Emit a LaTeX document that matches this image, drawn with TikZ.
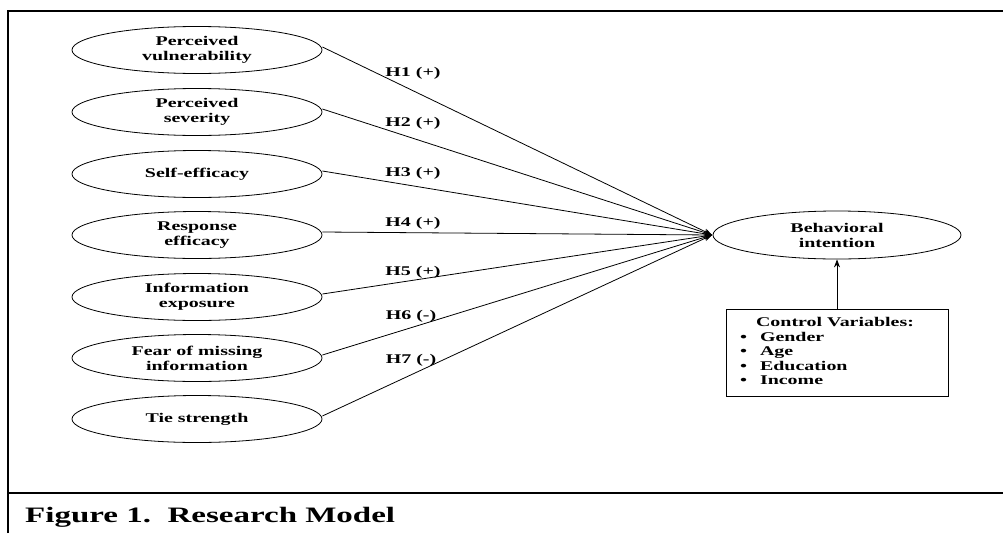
\documentclass[tikz,border=0pt]{standalone}
\usepackage{fontspec}
\setmainfont[FakeStretch=1.5]{Liberation Serif}
\usetikzlibrary{shapes.geometric,arrows.meta}
\begin{document}
\begin{tikzpicture}[x=1pt,y=-1pt,
  construct/.style={ellipse,draw,line width=0.8pt,minimum width=250pt,minimum height=47pt,inner sep=0pt,
    align=center,font=\fontsize{13.3}{15}\selectfont\bfseries},
  hyp/.style={font=\fontsize{13.3}{15}\selectfont\bfseries,inner sep=1pt},
  link/.style={line width=0.8pt,-{Stealth[length=8pt,width=6pt]}},
  frame/.style={line width=1.5pt}]
\useasboundingbox (0,0) rectangle (1003,533);
% frame
\draw[frame] (8,533) -- (8,11) -- (1003,11);
\draw[line width=2.6pt] (8,493) -- (1003,493);
\node[anchor=base west,inner sep=0pt,font=\fontsize{22}{26}\selectfont\bfseries] (cap) at (25,522) {Figure 1.\ \ Research Model};
% constructs
\node[construct] (pv) at (197,50) {Perceived\\vulnerability};
\node[construct] (ps) at (197,112) {Perceived\\severity};
\node[construct] (se) at (197,174) {Self-efficacy};
\node[construct] (re) at (197,235) {Response\\efficacy};
\node[construct] (ie) at (197,297) {Information\\exposure};
\node[construct] (fm) at (197,358) {Fear of missing\\information};
\node[construct] (ts) at (197,419) {Tie strength};
\node[construct,minimum width=248pt,minimum height=48pt] (bi) at (837,235) {Behavioral\\intention};
\coordinate (hub) at ([xshift=-0.5pt]bi.west);
% links
\foreach \n in {pv,ps,se,re,ie,fm,ts} \draw[link] ([yshift=3pt]\n.east) -- (hub);
% labels
\node[hyp] (h1) at (413,73) {H1 (+)};
\node[hyp] (h2) at (413,123) {H2 (+)};
\node[hyp] (h3) at (413,173) {H3 (+)};
\node[hyp] (h4) at (413,223) {H4 (+)};
\node[hyp] (h5) at (413,272) {H5 (+)};
\node[hyp] (h6) at (411,316) {H6 (-)};
\node[hyp] (h7) at (411,360) {H7 (-)};
% control box
\node[draw,line width=0.8pt,minimum width=222pt,minimum height=87pt,inner sep=0pt,
  font=\fontsize{13.3}{15.5}\selectfont\bfseries] (cv) at (837,352.5) {%
  \begin{tabular}{@{}l@{\hspace{13pt}}l@{}}
  \multicolumn{2}{@{}l@{}}{\hspace{16pt}Control Variables:}\\[-1pt]
  \textbullet & Gender\\[-1pt]
  \textbullet & Age\\[-1pt]
  \textbullet & Education\\[-1pt]
  \textbullet & Income
  \end{tabular}\hspace*{20pt}};
\draw[link] (cv.north) -- (bi.south);
\end{tikzpicture}
\end{document}
